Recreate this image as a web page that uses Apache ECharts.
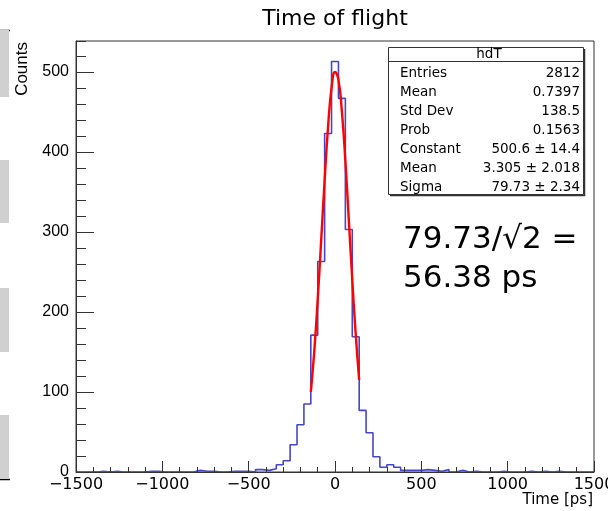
<!DOCTYPE html>
<html>
<head>
<meta charset="utf-8">
<script src="https://cdn.jsdelivr.net/npm/echarts@6/dist/echarts.min.js"></script>
<style>
html,body{margin:0;padding:0;background:#fff;}
#chart{width:608px;height:511px;}
</style>
</head>
<body>
<div id="chart"></div>
<script>
// Histogram: 75 bins of 40 ps from -1500 to 1500
const binStart = -1500;
const binWidth = 40;
const counts = [
  0, 0, 0, 1, 0, 1, 0, 0, 0, 0,
  1, 1, 0, 0, 0, 0, 0, 2, 1, 1,
  0, 0, 1, 1, 1, 0, 3, 2, 4, 9,
  14, 34, 59, 85, 171, 263, 423, 513, 467, 303,
  169, 77, 49, 19, 6, 9, 6, 2, 2, 2,
  3, 2, 1, 3, 0, 2, 0, 1, 0, 0,
  0, 1, 0, 0, 0, 1, 0, 1, 0, 1,
  0, 0, 0, 0, 0
];
// Gaussian fit curve
const fitX = [-140, -120, -100, -80, -60, -40, -20, 0, 20, 40, 60, 80, 100, 120, 140];
const fitY = [100, 151, 216, 290, 365, 432, 480, 500, 490, 450, 389, 315, 240, 172, 115];

const xTicks = [-1500, -1000, -500, 0, 500, 1000, 1500];
const yTicks = [0, 100, 200, 300, 400, 500];

const statsTitle = 'hdT';
const statsLabels = ['Entries', 'Mean', 'Std Dev', 'Prob', 'Constant', 'Mean', 'Sigma'];
const statsValues = ['2812', '0.7397', '138.5', '0.1563', '500.6 \u00b1 14.4', '3.305 \u00b1 2.018', '79.73 \u00b1 2.34'];
const noteLines = ['79.73/\u221a2 =', '56.38 ps'];

const histPts = counts.map((c, i) => [binStart + i * binWidth, c]);
histPts.push([binStart + counts.length * binWidth, counts[counts.length - 1]]);
const fitPts = fitX.map((x, i) => [x, fitY[i]]);

const chart = echarts.init(document.getElementById('chart'), null, {renderer: 'canvas'});
const AX = '#333';
const fmtX = v => (v < 0 ? '\u2212' + Math.abs(v) : String(v));

const graphics = [];
// slide artifacts on the left edge
[[30, 97], [160, 223], [288, 352], [415, 479]].forEach(r => {
  graphics.push({type: 'rect', shape: {x: 0, y: r[0], width: 9, height: r[1] - r[0]}, style: {fill: '#d0d0d0'}, z: 1});
});
graphics.push({type: 'line', shape: {x1: 0, y1: 30.5, x2: 10, y2: 30.5}, style: {stroke: '#000', lineWidth: 1.5}});
graphics.push({type: 'line', shape: {x1: 0, y1: 479.5, x2: 10, y2: 479.5}, style: {stroke: '#000', lineWidth: 1.5}});
// title
graphics.push({type: 'text', x: 335, y: 19, style: {text: 'Time of flight', font: '22px "DejaVu Sans"', fill: '#000', align: 'center', verticalAlign: 'middle'}});
// axis titles
graphics.push({type: 'text', x: 22, y: 42, rotation: Math.PI / 2, style: {text: 'Counts', font: '17px "Liberation Sans"', fill: '#000', align: 'right', verticalAlign: 'middle'}});
graphics.push({type: 'text', x: 593, y: 500, style: {text: 'Time [ps]', font: '15px "DejaVu Sans"', fill: '#000', align: 'right', verticalAlign: 'middle'}});
// stats box
const bx = 388, by = 47, bw = 195, bh = 147;
graphics.push({type: 'polyline', shape: {points: [[bx + bw + 1.5, by + 2], [bx + bw + 1.5, by + bh + 1.5], [bx + 2, by + bh + 1.5]]}, style: {stroke: '#333', lineWidth: 1.5, fill: null}, z: 10});
graphics.push({type: 'rect', shape: {x: bx + 0.5, y: by + 0.5, width: bw, height: bh}, style: {fill: '#fff', stroke: '#333', lineWidth: 1}, z: 10});
graphics.push({type: 'line', shape: {x1: bx, y1: by + 14.5, x2: bx + bw, y2: by + 14.5}, style: {stroke: '#333', lineWidth: 1}, z: 11});
graphics.push({type: 'text', x: 489, y: 54, style: {text: statsTitle, font: '13.5px "DejaVu Sans"', fill: '#000', align: 'center', verticalAlign: 'middle'}, z: 11});
statsLabels.forEach((l, i) => {
  const y = 73 + i * 19.1;
  graphics.push({type: 'text', x: 400, y: y, style: {text: l, font: '13.5px "DejaVu Sans"', fill: '#000', align: 'left', verticalAlign: 'middle'}, z: 11});
  graphics.push({type: 'text', x: 580, y: y, style: {text: statsValues[i], font: '13.5px "DejaVu Sans"', fill: '#000', align: 'right', verticalAlign: 'middle'}, z: 11});
});
// note text
graphics.push({type: 'text', x: 403, y: 240, style: {text: noteLines[0], font: '31px "DejaVu Sans"', fill: '#000', align: 'left', verticalAlign: 'middle'}, z: 11});
graphics.push({type: 'text', x: 403, y: 279, style: {text: noteLines[1], font: '31px "DejaVu Sans"', fill: '#000', align: 'left', verticalAlign: 'middle'}, z: 11});

chart.setOption({
  animation: false,
  backgroundColor: '#fff',
  grid: {left: 76, right: 14, top: 41, bottom: 39, show: true, borderColor: AX, borderWidth: 1, backgroundColor: 'transparent', containLabel: false, outerBoundsMode: 'none'},
  xAxis: [
    {type: 'value', min: xTicks[0], max: xTicks[xTicks.length - 1], interval: 500, z: 5,
     axisLine: {show: true, onZero: false, lineStyle: {color: AX, width: 1}},
     axisTick: {show: true, inside: true, length: 11, lineStyle: {color: AX, width: 1}},
     axisLabel: {show: true, formatter: fmtX, color: '#000', fontFamily: 'DejaVu Sans', fontSize: 16, margin: 5, hideOverlap: false},
     splitLine: {show: false}},
    {type: 'value', min: xTicks[0], max: xTicks[xTicks.length - 1], interval: 100, z: 5, position: 'bottom',
     axisLine: {show: false, onZero: false},
     axisTick: {show: true, inside: true, length: 5, lineStyle: {color: AX, width: 1}},
     axisLabel: {show: false}, splitLine: {show: false}}
  ],
  yAxis: [
    {type: 'value', min: yTicks[0], max: 538.65, interval: 100, z: 5,
     axisLine: {show: true, onZero: false, lineStyle: {color: AX, width: 1}},
     axisTick: {show: true, inside: true, length: 18, lineStyle: {color: AX, width: 1}},
     axisLabel: {show: true, showMaxLabel: false, color: '#000', fontFamily: 'Liberation Sans', fontSize: 16, margin: 7},
     splitLine: {show: false}},
    {type: 'value', min: yTicks[0], max: 538.65, interval: 20, z: 5, position: 'left',
     axisLine: {show: false, onZero: false},
     axisTick: {show: true, inside: true, length: 10, lineStyle: {color: AX, width: 1}},
     axisLabel: {show: false}, splitLine: {show: false}}
  ],
  series: [
    {type: 'line', xAxisIndex: 0, yAxisIndex: 0, data: histPts, step: 'end', symbol: 'none', z: 1,
     lineStyle: {color: '#4646c8', width: 1.6}, silent: true},
    {type: 'line', xAxisIndex: 0, yAxisIndex: 0, data: fitPts, smooth: true, symbol: 'none', z: 3,
     lineStyle: {color: '#ff0000', width: 2.4}, silent: true}
  ],
  graphic: {elements: graphics}
});
</script>
</body>
</html>
